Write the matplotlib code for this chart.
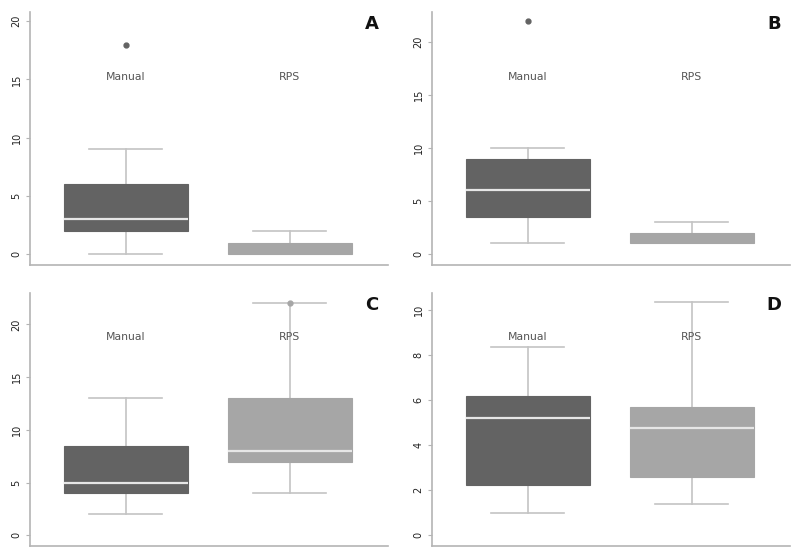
import matplotlib
matplotlib.use("Agg")
import matplotlib.pyplot as plt

groups = ["Manual", "RPS"]
panels = ["A", "B", "C", "D"]

# five-number summaries per panel: [Manual, RPS]
whislo = {"A": [0, 0], "B": [1, 1], "C": [2, 4], "D": [0.99, 1.38]}
q1 = {"A": [2, 0], "B": [3.5, 1], "C": [4, 7], "D": [2.22, 2.59]}
med = {"A": [3, 0], "B": [6, 1], "C": [5, 8], "D": [5.19, 4.74]}
q3 = {"A": [6, 1], "B": [9, 2], "C": [8.5, 13], "D": [6.18, 5.70]}
whishi = {"A": [9, 2], "B": [10, 3], "C": [13, 22], "D": [8.34, 10.37]}
fliers = {"A": [[18], []], "B": [[22], []], "C": [[], [22]], "D": [[], []]}

yticks = {
    "A": [0, 5, 10, 15, 20],
    "B": [0, 5, 10, 15, 20],
    "C": [0, 5, 10, 15, 20],
    "D": [0, 2, 4, 6, 8, 10],
}
ylims = {"A": (-0.94, 20.77), "B": (-1.04, 22.8), "C": (-1.01, 22.97), "D": (-0.49, 10.75)}

box_colors = ["#636363", "#a6a6a6"]
line_color = "#c4c4c4"
axis_color = "#b4b4b4"

fig = plt.figure(figsize=(8, 5.57), dpi=100)
positions = {
    "A": [0.0375, 0.524, 0.4475, 0.454],
    "B": [0.54, 0.524, 0.4475, 0.454],
    "C": [0.0375, 0.0197, 0.4475, 0.454],
    "D": [0.54, 0.0197, 0.4475, 0.454],
}

for p in panels:
    ax = fig.add_axes(positions[p])
    stats = []
    for i, g in enumerate(groups):
        stats.append(
            dict(
                label=g,
                whislo=whislo[p][i],
                q1=q1[p][i],
                med=med[p][i],
                q3=q3[p][i],
                whishi=whishi[p][i],
                fliers=fliers[p][i],
            )
        )
    bp = ax.bxp(
        stats,
        positions=[1, 2],
        widths=0.756,
        patch_artist=True,
        showfliers=True,
        boxprops=dict(linewidth=0),
        whiskerprops=dict(color=line_color, linewidth=1.2),
        capprops=dict(color=line_color, linewidth=1.2),
        medianprops=dict(color="#e6e6e6", linewidth=1.6),
        capwidths=0.445,
        zorder=2,
    )
    for i, box in enumerate(bp["boxes"]):
        box.set_facecolor(box_colors[i])
        box.set_edgecolor(box_colors[i])
        box.set_linewidth(0.8)
        box.set_zorder(3)
    for i, m in enumerate(bp["medians"]):
        # a median sitting on the box edge is hidden under the box
        if med[p][i] in (q1[p][i], q3[p][i]):
            m.set_visible(False)
        else:
            m.set_zorder(4)
    # a cap that coincides with the box edge is covered by the box
    for j, c in enumerate(bp["caps"]):
        i = j // 2
        val = whislo[p][i] if j % 2 == 0 else whishi[p][i]
        if val in (q1[p][i], q3[p][i]):
            c.set_visible(False)
    for i, fl in enumerate(bp["fliers"]):
        fl.set_marker("o")
        fl.set_markersize(3.5)
        fl.set_markerfacecolor(box_colors[i])
        fl.set_markeredgecolor(box_colors[i])
        fl.set_zorder(5)

    ax.set_xlim(0.415, 2.6)
    ax.set_ylim(*ylims[p])
    ax.set_xticks([])
    ax.set_yticks(yticks[p])
    ax.set_yticklabels([str(t) for t in yticks[p]], rotation=90, va="center",
                       fontsize=7, color="#222222")
    ax.tick_params(axis="y", length=3, width=0.8, color=axis_color, pad=3)
    for s in ["top", "right"]:
        ax.spines[s].set_visible(False)
    for s in ["left", "bottom"]:
        ax.spines[s].set_color(axis_color)
        ax.spines[s].set_linewidth(1.2)

    label_y = 0.743 if p in ("A", "B") else 0.826
    for i, g in enumerate(groups):
        ax.text(i + 1, label_y, g, transform=ax.get_xaxis_transform(),
                ha="center", va="center", fontsize=7.8, color="#555555")
    ax.text(0.955, 0.955, p, transform=ax.transAxes, ha="center", va="center",
            fontsize=13, fontweight="bold", color="#111111")

fig.savefig("out.png", dpi=100, facecolor="white")
